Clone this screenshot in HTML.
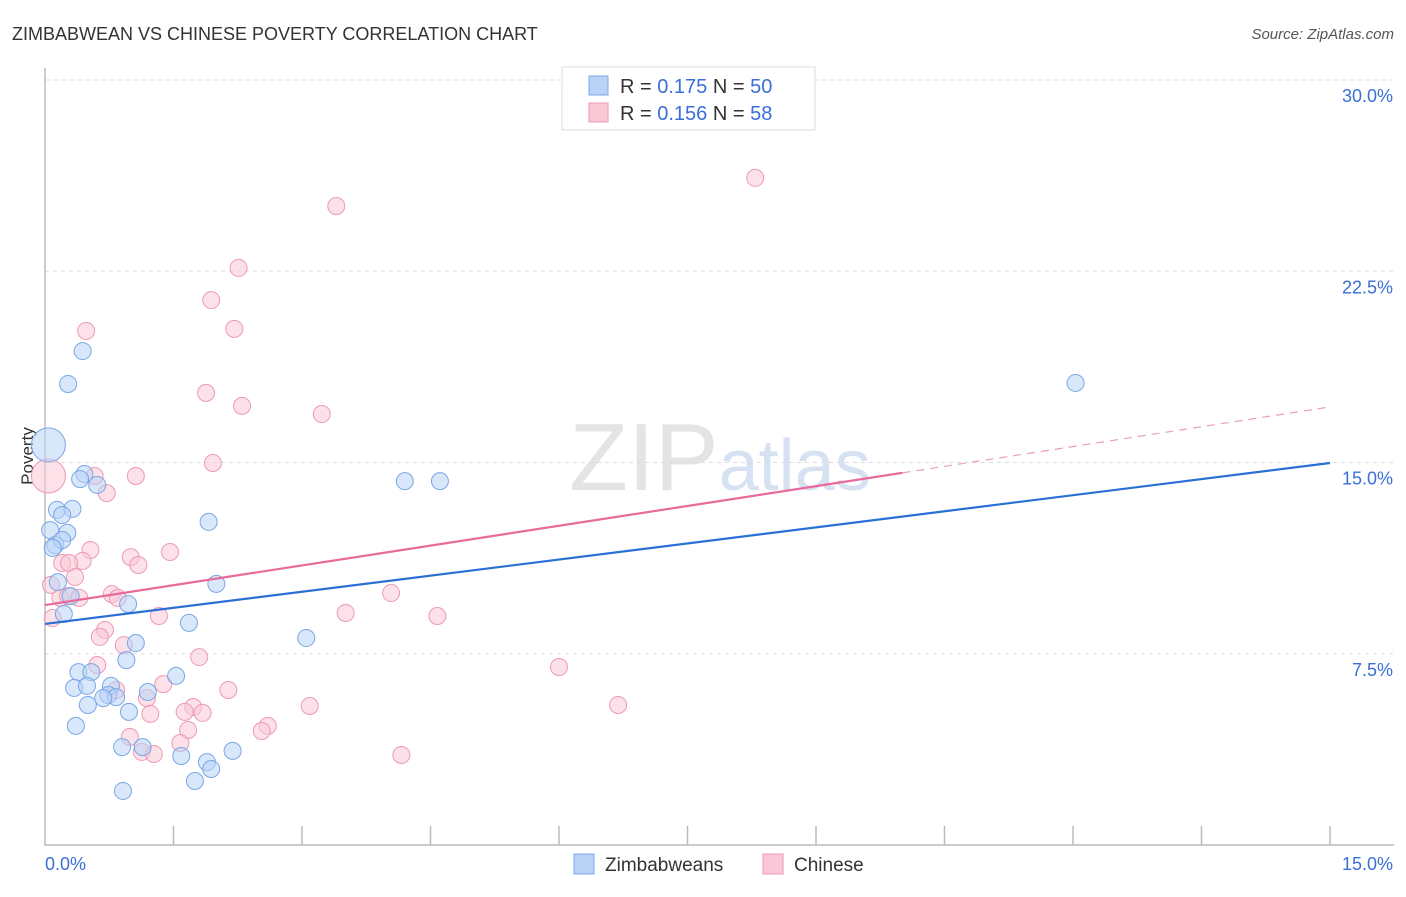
<!DOCTYPE html>
<html><head><meta charset="utf-8"><style>
body{margin:0;background:#fff;font-family:"Liberation Sans",sans-serif;}
svg text{font-family:"Liberation Sans",sans-serif;}
</style></head><body>
<svg id="chart" width="1406" height="892" viewBox="0 0 1406 892" xmlns="http://www.w3.org/2000/svg">
<text x="12" y="40" font-size="18" fill="#333">ZIMBABWEAN VS CHINESE POVERTY CORRELATION CHART</text>
<text x="1394" y="39" font-size="15" fill="#555" font-style="italic" text-anchor="end">Source: ZipAtlas.com</text>
<text x="720" y="490" font-size="96" fill="#e4e4e4" text-anchor="middle" font-family="Liberation Serif">ZIP<tspan fill="#d6e2f2" font-family="Liberation Sans" font-size="72">atlas</tspan></text>
<text transform="translate(33,456) rotate(-90)" font-size="17" fill="#333" text-anchor="middle">Poverty</text>
<g id="grid"></g><g id="axes"></g><g id="marks"></g>
<g>
<rect x="562" y="67" width="253" height="63" fill="#fff" stroke="#ddd"/>
<rect x="589" y="76" width="19" height="19" fill="#b8d3f5" stroke="#7aa7e6"/>
<text x="620" y="93" font-size="20" fill="#333">R = <tspan fill="#3a6fd8">0.175</tspan>   N = <tspan fill="#3a6fd8">50</tspan></text>
<rect x="589" y="103" width="19" height="19" fill="#f9c8d7" stroke="#ee9ab4"/>
<text x="620" y="120" font-size="20" fill="#333">R = <tspan fill="#3a6fd8">0.156</tspan>   N = <tspan fill="#3a6fd8">58</tspan></text>
</g>
<g>
<rect x="574" y="854" width="20" height="20" fill="#b8d3f5" stroke="#7aa7e6"/>
<text x="605" y="871" font-size="19" fill="#333">Zimbabweans</text>
<rect x="763" y="854" width="20" height="20" fill="#f9c8d7" stroke="#ee9ab4"/>
<text x="794" y="871" font-size="19" fill="#333">Chinese</text>
</g>
</svg>
<script>
const blueX=[0.44,0.27,0.04,0.46,0.41,0.61,0.14,0.32,0.20,0.06,0.26,0.12,0.20,0.09,1.91,4.20,4.61,12.03,0.15,2.00,0.30,0.22,0.97,1.68,3.05,1.06,0.95,0.39,0.54,1.53,0.34,0.49,0.77,1.20,0.74,0.83,0.68,0.50,0.98,0.36,0.90,1.14,1.59,1.89,1.94,2.19,1.75,0.91];
const blueY=[19.37,18.08,15.69,14.55,14.35,14.12,13.14,13.18,12.94,12.35,12.24,11.76,11.96,11.65,12.67,14.27,14.27,18.12,10.31,10.24,9.76,9.06,9.45,8.71,8.12,7.92,7.25,6.78,6.78,6.63,6.16,6.24,6.24,6.00,5.88,5.80,5.76,5.49,5.22,4.67,3.84,3.84,3.49,3.25,2.98,3.69,2.51,2.12];
const pinkX=[8.29,3.40,2.26,1.94,2.21,0.48,1.88,2.30,3.23,1.96,0.04,0.58,1.06,0.72,0.53,1.46,1.00,1.09,0.20,0.44,0.28,0.35,0.07,0.18,0.27,0.40,0.78,0.85,4.04,3.51,4.58,1.33,0.09,0.70,0.64,0.92,0.61,1.80,6.00,1.38,2.14,0.83,1.19,1.73,1.63,1.84,1.23,6.69,3.09,1.67,2.60,2.53,0.99,1.58,1.13,1.27,4.16];
const pinkY=[26.16,25.06,22.63,21.37,20.24,20.16,17.73,17.22,16.90,14.98,14.47,14.47,14.47,13.80,11.57,11.49,11.29,10.98,11.06,11.14,11.06,10.51,10.20,9.69,9.76,9.69,9.84,9.69,9.88,9.10,8.98,8.98,8.90,8.43,8.16,7.84,7.06,7.37,6.98,6.31,6.08,6.08,5.76,5.41,5.22,5.18,5.14,5.49,5.45,4.51,4.67,4.47,4.24,4.00,3.65,3.57,3.53];
const yTicks=[7.5,15,22.5,30];
const yTickLabels=["7.5%","15.0%","22.5%","30.0%"];
const blueTrend=[8.67,14.98];
const pinkTrend=[9.41,17.18];
const pinkSolidEnd=10.01;
const X=v=>45+v*(1285/15), Y=v=>845-v*25.5;
const NS="http://www.w3.org/2000/svg";
function mk(p,t,a){const e=document.createElementNS(NS,t);for(const k in a)e.setAttribute(k,a[k]);p.appendChild(e);return e;}
const grid=document.getElementById('grid'),axes=document.getElementById('axes'),marks=document.getElementById('marks');
yTicks.forEach((t,i)=>{
 const l=mk(grid,'line',{x1:45,x2:1394,y1:Y(t),y2:Y(t),stroke:'#ddd','stroke-dasharray':'4,4'});
 
 
 const tx=mk(axes,'text',{x:1393,y:Y(t)+22,'font-size':18,fill:'#3a6fd8','text-anchor':'end'});
 tx.textContent=yTickLabels[i];
 
 
});
const ax=mk(axes,'path',{d:'M45 68 V845 H1394',fill:'none',stroke:'#bbb','stroke-width':1.5});


for(let i=1;i<=10;i++){const t=mk(axes,'line',{x1:X(i*1.5),x2:X(i*1.5),y1:826,y2:845,stroke:'#bbb','stroke-width':1.5});
 
 }
const x0=mk(axes,'text',{x:45,y:870,'font-size':18,fill:'#3a6fd8'});x0.textContent='0.0%';


const x1=mk(axes,'text',{x:1393,y:870,'font-size':18,fill:'#3a6fd8','text-anchor':'end'});x1.textContent='15.0%';


function pts(xs,ys,fill,stroke,name,bigIdx){
 xs.forEach((x,i)=>{const c=mk(marks,'circle',{cx:X(x),cy:Y(ys[i]),r:i===bigIdx?17:8.5,fill:fill,'fill-opacity':0.55,stroke:stroke,'stroke-width':1});
 
 });
}
pts(pinkX,pinkY,'#f9c8d7','#ee9ab4','chinese-point',10);
pts(blueX,blueY,'#b8d3f5','#7aa7e6','zimbabwean-point',2);
const bl=mk(marks,'line',{x1:X(0),y1:Y(blueTrend[0]),x2:X(15),y2:Y(blueTrend[1]),stroke:'#2a6fd6','stroke-width':2.2});


const pm=pinkTrend[0]+(pinkTrend[1]-pinkTrend[0])*pinkSolidEnd/15;
const pl=mk(marks,'line',{x1:X(0),y1:Y(pinkTrend[0]),x2:X(pinkSolidEnd),y2:Y(pm),stroke:'#e8699a','stroke-width':2.2});


const pd=mk(marks,'line',{x1:X(pinkSolidEnd),y1:Y(pm),x2:X(15),y2:Y(pinkTrend[1]),stroke:'#e8a0ba','stroke-width':1.2,'stroke-dasharray':'8,6'});


</script>
</body></html>
